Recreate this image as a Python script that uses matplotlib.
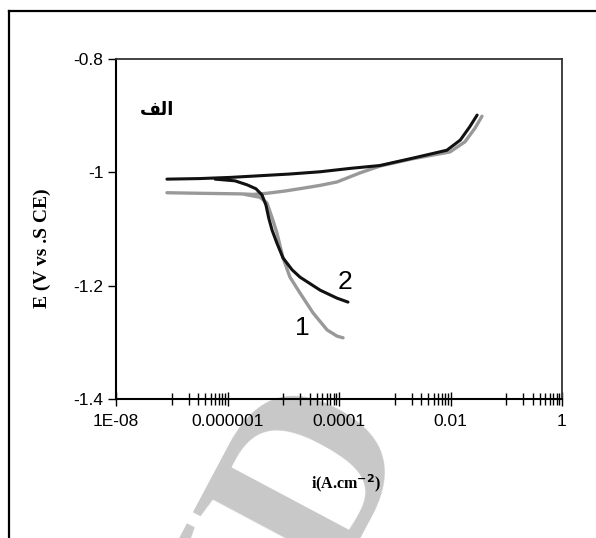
import matplotlib
matplotlib.use('Agg')
import matplotlib.pyplot as plt
from matplotlib.ticker import FixedLocator, FixedFormatter
import numpy as np

# curve 2 (black) and curve 1 (gray): current density (A/cm2) and potential (V vs SCE)
i2_anodic = [8.2e-8, 3.2e-7, 1.1e-6, 3.8e-6, 1.3e-5, 4.6e-5, 1.6e-4, 5.4e-4, 2.1e-3, 8.6e-3, 1.5e-2, 2.2e-2, 3.0e-2]
E2_anodic = [-1.012, -1.011, -1.009, -1.006, -1.003, -0.999, -0.993, -0.988, -0.975, -0.961, -0.943, -0.920, -0.899]
i2_cathodic = [6.0e-7, 1.36e-6, 2.24e-6, 3.24e-6, 4.16e-6, 4.9e-6, 5.5e-6, 6.3e-6, 7.7e-6, 9.9e-6, 1.44e-5, 2.0e-5, 4.6e-5, 9.2e-5, 1.45e-4]
E2_cathodic = [-1.012, -1.015, -1.022, -1.029, -1.040, -1.058, -1.081, -1.102, -1.125, -1.151, -1.172, -1.185, -1.208, -1.222, -1.229]

i1_anodic = [8.2e-8, 3.2e-7, 1.67e-6, 2.86e-6, 5.1e-6, 1.07e-5, 2.26e-5, 4.6e-5, 9.2e-5, 2.38e-4, 5.4e-4, 2.1e-3, 9.8e-3, 1.82e-2, 2.75e-2, 3.67e-2]
E1_anodic = [-1.036, -1.037, -1.038, -1.039, -1.037, -1.033, -1.028, -1.023, -1.017, -1.001, -0.989, -0.976, -0.964, -0.946, -0.922, -0.901]
i1_cathodic = [2.06e-6, 3.83e-6, 5.1e-6, 6.5e-6, 7.7e-6, 9.9e-6, 1.32e-5, 2.0e-5, 3.42e-5, 6.1e-5, 9.2e-5, 1.18e-4]
E1_cathodic = [-1.039, -1.044, -1.054, -1.084, -1.107, -1.151, -1.185, -1.213, -1.248, -1.278, -1.289, -1.292]

x_ticks = [1e-8, 1e-6, 1e-4, 1e-2, 1]
x_ticklabels = ['1E-08', '0.000001', '0.0001', '0.01', '1']
y_ticks = [-1.4, -1.2, -1.0, -0.8]
y_ticklabels = ['-1.4', '-1.2', '-1', '-0.8']

narrow = ['Liberation Sans Narrow', 'Liberation Sans', 'DejaVu Sans']
serif = ['Liberation Serif', 'DejaVu Serif']

fig = plt.figure(figsize=(5.96, 5.38), dpi=100)
ax = fig.add_axes([116/596, 1-399/538, 446/596, 340/538])

# watermark behind everything
fig.text(0.44, -0.07, 'SID', fontsize=175, fontweight='bold', color='#c8c8c8',
         rotation=62, ha='center', va='center', family=serif, zorder=-5)
ax.patch.set_alpha(0)

ax.plot(i1_anodic, E1_anodic, color='#999999', lw=2.4, solid_capstyle='round')
ax.plot(i1_cathodic, E1_cathodic, color='#999999', lw=2.4, solid_capstyle='round')
ax.plot(i2_anodic, E2_anodic, color='#111111', lw=2.2, solid_capstyle='round')
ax.plot(i2_cathodic, E2_cathodic, color='#111111', lw=2.2, solid_capstyle='round')

ax.set_xscale('log')
ax.set_xlim(1e-8, 1)
ax.set_ylim(-1.4, -0.8)

ax.xaxis.set_major_locator(FixedLocator(x_ticks))
ax.xaxis.set_major_formatter(FixedFormatter(x_ticklabels))
minors = [k * 10.0**d for d in (-7, -5, -3, -1) for k in range(1, 10)]
ax.xaxis.set_minor_locator(FixedLocator(minors))
ax.xaxis.set_minor_formatter(FixedFormatter([''] * len(minors)))
ax.yaxis.set_major_locator(FixedLocator(y_ticks))
ax.yaxis.set_major_formatter(FixedFormatter(y_ticklabels))

ax.tick_params(axis='x', which='major', direction='inout', length=10, width=1, pad=6, labelsize=12.5)
ax.tick_params(axis='x', which='minor', direction='inout', length=8, width=1)
ax.tick_params(axis='y', which='major', direction='out', length=6, width=1, pad=3, labelsize=12.5)
for lab in ax.get_xticklabels() + ax.get_yticklabels():
    lab.set_family(narrow)

for side in ('left', 'bottom'):
    ax.spines[side].set_linewidth(1.5)
    ax.spines[side].set_color('black')
for side in ('top', 'right'):
    ax.spines[side].set_linewidth(1.3)
    ax.spines[side].set_color('#333333')

ax.text(1.28e-4, -1.1935, '2', fontsize=19, ha='center', va='center', family=narrow)
ax.text(2.17e-5, -1.275, '1', fontsize=19, ha='center', va='center', family=narrow)
# Arabic "الف" in presentation forms (visual order) since matplotlib does not shape Arabic
ax.text(0.092, 0.85, '\uFED2\uFEDF\uFE8D', transform=ax.transAxes, fontsize=13,
        fontweight='bold', ha='center', va='center', family=['DejaVu Sans'])

fig.text(42/596, 1-248/538, 'E (V vs .S CE)', rotation=90, fontsize=14, fontweight='bold',
         ha='center', va='center', family=serif)
fig.text(346/596, 1-483/538, r'i(A.cm$^{\mathbf{-2}}$)', fontsize=11.5, fontweight='bold',
         ha='center', va='center', family=serif)

# outer frame
fig.add_artist(plt.Line2D([9/596, 9/596], [0, 1-11/538], color='black', lw=1.6))
fig.add_artist(plt.Line2D([9/596, 1], [1-11/538, 1-11/538], color='black', lw=1.6))

fig.savefig('out.png', dpi=100)
